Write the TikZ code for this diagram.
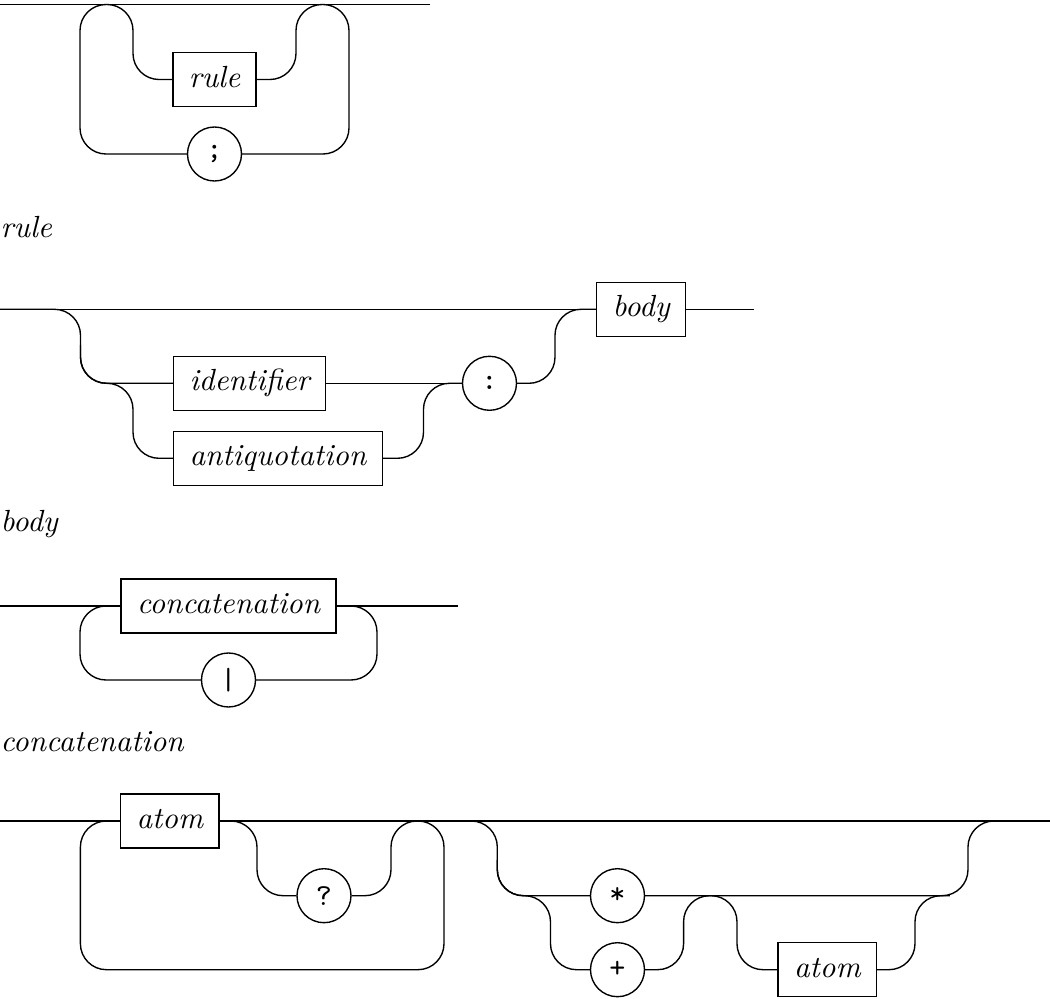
\documentclass[tikz,border=0pt]{standalone}
\usepackage{fontspec}
\begin{document}
\begin{tikzpicture}[x=0.3268pt,y=-0.3268pt,
  ntbox/.style={draw, rectangle, minimum height=17.65pt, inner xsep=5.2pt, font=\itshape, text height=6.9pt, text depth=1.9pt},
  tcirc/.style={draw, circle, minimum size=17.65pt, inner sep=0pt, font=\ttfamily},
  title/.style={anchor=base west, inner sep=0pt, font=\itshape},
  rr/.style={rounded corners=8.5pt},
  line width=0.45pt]
\useasboundingbox (0,0) rectangle (1050,999);

% ---------- diagram 1
\node[ntbox] (rule1) at (214.5,79.5) {rule};
\node[tcirc] (semi) at (214.5,154) {;};
\coordinate (d1a) at (0,4.5);
\coordinate (d1b) at (430,4.5);
\draw (d1a) -- (d1b);
\draw[rr] (semi.west) -- (80,154) -- (80,4.5) -- (133,4.5) -- (133,79.5) -- (rule1.west);
\draw[rr] (rule1.east) -- (296,79.5) -- (296,4.5) -- (349,4.5) -- (349,154) -- (semi.east);

\node[title] (t1) at (0,238) {rule};

% ---------- diagram 2
\node[ntbox, anchor=west] (ident) at (173,383.3) {identifier};
\node[ntbox, anchor=west] (antiq) at (173,458.3) {antiquotation};
\node[tcirc] (colon) at (489.5,383.3) {:};
\node[ntbox, anchor=west] (body) at (596,309.3) {body};
\coordinate (d2a) at (0,309.3);
\coordinate (d2b) at (754,309.3);
\draw (d2a) -- (body.west);
\draw (body.east) -- (d2b);
\draw[rr] (d2a) -- (80.5,309.3) -- (80.5,383.3) -- (ident.west);
\draw[rr] (80.5,345) -- (80.5,383.3) -- (133,383.3) -- (133,458.3) -- (antiq.west);
\draw (ident.east) -- (colon.west);
\draw[rr] (antiq.east) -- (423.5,458.3) -- (423.5,383.3) -- (colon.west);
\draw[rr] (colon.east) -- (555,383.3) -- (555,309.3) -- (body.west);

\node[title] (t2) at (0,532) {body};

% ---------- diagram 3
\node[ntbox] (conc) at (228.5,606) {concatenation};
\node[tcirc] (bar) at (228.5,680) {|};
\coordinate (d3a) at (0,606);
\coordinate (d3b) at (458,606);
\draw (d3a) -- (conc.west);
\draw (conc.east) -- (d3b);
\draw[rr] (conc.west) -- (80,606) -- (80,680) -- (bar.west);
\draw[rr] (conc.east) -- (377,606) -- (377,680) -- (bar.east);

\node[title] (t3) at (0,752) {concatenation};

% ---------- diagram 4
\node[ntbox, anchor=west] (atomA) at (120,821) {atom};
\node[tcirc] (qm) at (324,895.7) {?};
\node[tcirc] (star) at (617.5,895.7) {*};
\node[tcirc] (plus) at (617.5,969.7) {+};
\node[ntbox, anchor=west] (atomB) at (777.5,969.7) {atom};
\coordinate (d4a) at (0,821);
\coordinate (d4b) at (1050,821);
\draw (d4a) -- (atomA.west);
\draw (atomA.east) -- (d4b);
\draw[rr] (atomA.west) -- (80.4,821) -- (80.4,969.7) -- (444,969.7) -- (444,821) -- (400,821);
\draw[rr] (atomA.east) -- (257,821) -- (257,895.7) -- (qm.west);
\draw[rr] (qm.east) -- (391,895.7) -- (391,821) -- (430,821);
\draw[rr] (450,821) -- (497.3,821) -- (497.3,895.7) -- (star.west);
\draw[rr] (497.3,860) -- (497.3,895.7) -- (550.5,895.7) -- (550.5,969.7) -- (plus.west);
\draw[rr] (star.east) -- (968,895.7) -- (968,821) -- (1000,821);
\draw[rr] (plus.east) -- (683.6,969.7) -- (683.6,895.7) -- (737,895.7) -- (737,969.7) -- (atomB.west);
\draw[rr] (atomB.east) -- (915,969.7) -- (915,895.7) -- (950,895.7);
\end{tikzpicture}
\end{document}
